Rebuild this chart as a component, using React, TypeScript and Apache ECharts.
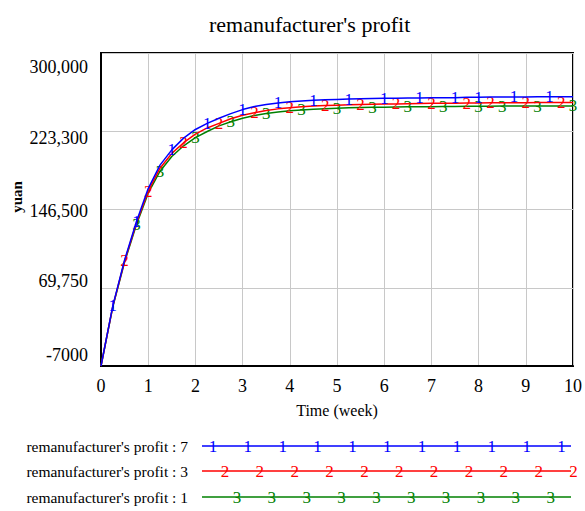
import React, { useEffect, useRef } from 'react';
import * as echarts from 'echarts';

const TITLE = "remanufacturer's profit";
const X_NAME = 'Time (week)';
const Y_NAME = 'yuan';
const X_TICKS = ['0', '1', '2', '3', '4', '5', '6', '7', '8', '9', '10'];
const Y_TICK_LABELS = ['-7000', '69,750', '146,500', '223,300', '300,000'];
const SERIES_NAMES = [
  "remanufacturer's profit : 7",
  "remanufacturer's profit : 3",
  "remanufacturer's profit : 1",
];
const SERIES_MARKS = ['1', '2', '3'];
const SERIES_COLORS = ['#0000ff', '#ff0000', '#008000'];

const TIMES = [
  0, 0.25, 0.5, 0.75, 1, 1.25, 1.5, 1.75, 2, 2.25, 2.5, 2.75, 3, 3.25, 3.5, 3.75,
  4, 4.25, 4.5, 4.75, 5, 5.25, 5.5, 5.75, 6, 6.25, 6.5, 6.75, 7, 7.25, 7.5, 7.75,
  8, 8.25, 8.5, 8.75, 9, 9.25, 9.5, 9.75, 10,
];
const PROFIT_7 = [
  -7000, 52000, 97000, 134500, 167000, 190000, 205000, 216500, 225000, 231000, 236000,
  240500, 244500, 247500, 249500, 251000, 252200, 253000, 253600, 254100, 254500,
  254800, 255100, 255300, 255500, 255700, 255800, 255900, 256000, 256100, 256200,
  256600, 256700, 256800, 256800, 256900, 256900, 257000, 257000, 257000, 257100,
];
const PROFIT_3 = [
  -7000, 51500, 96000, 133000, 164500, 187000, 201500, 212000, 220500, 226500, 231000,
  235500, 239000, 241500, 243500, 245200, 246300, 247200, 247900, 248400, 248800,
  249200, 249500, 249700, 249900, 250100, 250300, 250500, 250600, 250700, 250800,
  250900, 251000, 251100, 251200, 251300, 251300, 251400, 251400, 251500, 251500,
];
const PROFIT_1 = [
  -7000, 51000, 95000, 131500, 162500, 184000, 198500, 209000, 217000, 223000, 228500,
  232500, 236000, 238700, 240700, 242200, 243300, 244200, 244900, 245400, 245800,
  246200, 246500, 246700, 246900, 247100, 247200, 247300, 247400, 247500, 247600,
  247700, 247800, 247800, 247900, 247900, 248000, 248000, 248000, 248100, 248100,
];
const MARK_TIMES_7 = [0.25, 0.75, 1.5, 2.25, 3, 3.75, 4.5, 5.25, 6, 6.75, 7.5, 8, 8.75, 9.5];
const MARK_TIMES_3 = [0.5, 1, 1.75, 2.5, 3.25, 4, 4.75, 5.5, 6.25, 7, 7.75, 8.25, 9, 9.75];
const MARK_TIMES_1 = [0.75, 1.25, 2, 2.75, 3.5, 4.25, 5, 5.75, 6.5, 7.25, 8, 8.5, 9.25, 10];

const SERIES_DATA = [PROFIT_7, PROFIT_3, PROFIT_1];
const SERIES_MARK_TIMES = [MARK_TIMES_7, MARK_TIMES_3, MARK_TIMES_1];

const FONT = '"Liberation Serif", "Times New Roman", serif';

export default function App() {
  const ref = useRef<HTMLDivElement>(null);

  useEffect(() => {
    document.body.style.margin = '0';
    if (!ref.current) return;
    const chart = echarts.init(ref.current, null, { renderer: 'svg' });

    // vertical label shifts (px) per tick, bottom to top
    const shifts = [-11, -6.5, 1.5, 7, 14];
    const rich: any = {};
    shifts.forEach((s, i) => {
      rich['s' + i] = {
        fontSize: 18,
        fontFamily: FONT,
        color: '#000',
        padding: s >= 0 ? [2 * s, 0, 0, 0] : [0, 0, -2 * s, 0],
      };
    });

    const series = [2, 1, 0].map((si) => ({
      type: 'line',
      name: SERIES_NAMES[si],
      yAxisIndex: 0,
      xAxisIndex: 0,
      data: TIMES.map((t, i) => {
        const item: any = { value: [t, SERIES_DATA[si][i]] };
        if (SERIES_MARK_TIMES[si].indexOf(t) >= 0) item.label = { show: true };
        return item;
      }),
      symbol: 'circle',
      symbolSize: 0,
      showAllSymbol: true,
      smooth: false,
      lineStyle: { color: SERIES_COLORS[si], width: 1.5 },
      itemStyle: { color: SERIES_COLORS[si] },
      label: {
        show: false,
        position: 'inside',
        formatter: SERIES_MARKS[si],
        color: SERIES_COLORS[si],
        fontSize: 17,
        fontFamily: FONT,
      },
      emphasis: { disabled: true },
      z: 3 + (2 - si),
    }));

    const graphic: any[] = [
      {
        type: 'text',
        x: 17,
        y: 197,
        rotation: Math.PI / 2,
        style: {
          text: Y_NAME,
          font: `bold 15px ${FONT}`,
          fill: '#000',
          textAlign: 'center',
          textVerticalAlign: 'middle',
          align: 'center',
          verticalAlign: 'middle',
        },
      },
    ];
    const rowY = [446, 471, 497];
    const markStart = [213, 225, 237];
    const markCount = [11, 11, 10];
    const markStep = 34.85;
    for (let i = 0; i < 3; i++) {
      graphic.push({
        type: 'text',
        x: 188,
        y: rowY[i],
        style: {
          text: SERIES_NAMES[i],
          font: `15.5px ${FONT}`,
          fill: '#000',
          textAlign: 'right',
          textVerticalAlign: 'middle',
          align: 'right',
          verticalAlign: 'middle',
        },
      });
      graphic.push({
        type: 'line',
        shape: { x1: 202, y1: rowY[i], x2: 571, y2: rowY[i] },
        style: { stroke: SERIES_COLORS[i], lineWidth: 1.5 },
      });
      for (let k = 0; k < markCount[i]; k++) {
        graphic.push({
          type: 'text',
          x: markStart[i] + k * markStep,
          y: rowY[i],
          style: {
            text: SERIES_MARKS[i],
            font: `17px ${FONT}`,
            fill: SERIES_COLORS[i],
            textAlign: 'center',
            textVerticalAlign: 'middle',
            align: 'center',
            verticalAlign: 'middle',
          },
        });
      }
    }

    chart.setOption({
      animation: false,
      backgroundColor: '#fff',
      title: {
        text: TITLE,
        left: 204,
        top: 8,
        textStyle: { fontSize: 22, fontWeight: 'normal', fontFamily: FONT, color: '#000' },
      },
      grid: {
        left: 101,
        right: 7,
        top: 53,
        bottom: 145,
        show: true,
        borderColor: '#000',
        borderWidth: 2,
        backgroundColor: 'transparent',
        containLabel: false,
      },
      xAxis: {
        type: 'value',
        min: 0,
        max: 10,
        interval: 1,
        name: X_NAME,
        nameLocation: 'middle',
        nameGap: 36,
        nameTextStyle: { fontSize: 16, color: '#000', fontFamily: FONT },
        axisLine: { show: true, onZero: false, lineStyle: { color: '#000', width: 2 } },
        axisTick: { show: false },
        axisLabel: {
          color: '#000',
          fontSize: 18,
          fontFamily: FONT,
          margin: 11,
          formatter: (v: number) => X_TICKS[Math.round(v)] ?? '',
        },
        splitLine: { show: true, lineStyle: { color: '#c8c8c8', width: 1 } },
      },
      yAxis: [
        {
          type: 'value',
          min: -7000,
          max: 300000,
          position: 'left',
          axisLine: { show: false, onZero: false },
          axisTick: { show: false },
          axisLabel: { show: false },
          splitLine: { show: false },
        },
        {
          type: 'value',
          min: 0,
          max: 307000,
          interval: 76750,
          position: 'left',
          offset: 0,
          axisLine: { show: true, onZero: false, lineStyle: { color: '#000', width: 2 } },
          axisTick: { show: false },
          axisLabel: {
            margin: 13,
            color: '#000',
            fontSize: 18,
            fontFamily: FONT,
            formatter: (v: number) => {
              const i = Math.round(v / 76750);
              return `{s${i}|${Y_TICK_LABELS[i] ?? ''}}`;
            },
            rich,
          },
          splitLine: { show: true, lineStyle: { color: '#c8c8c8', width: 1 } },
        },
      ],
      series,
      graphic,
    });

    return () => chart.dispose();
  }, []);

  return <div ref={ref} style={{ width: 585, height: 511 }} />;
}
